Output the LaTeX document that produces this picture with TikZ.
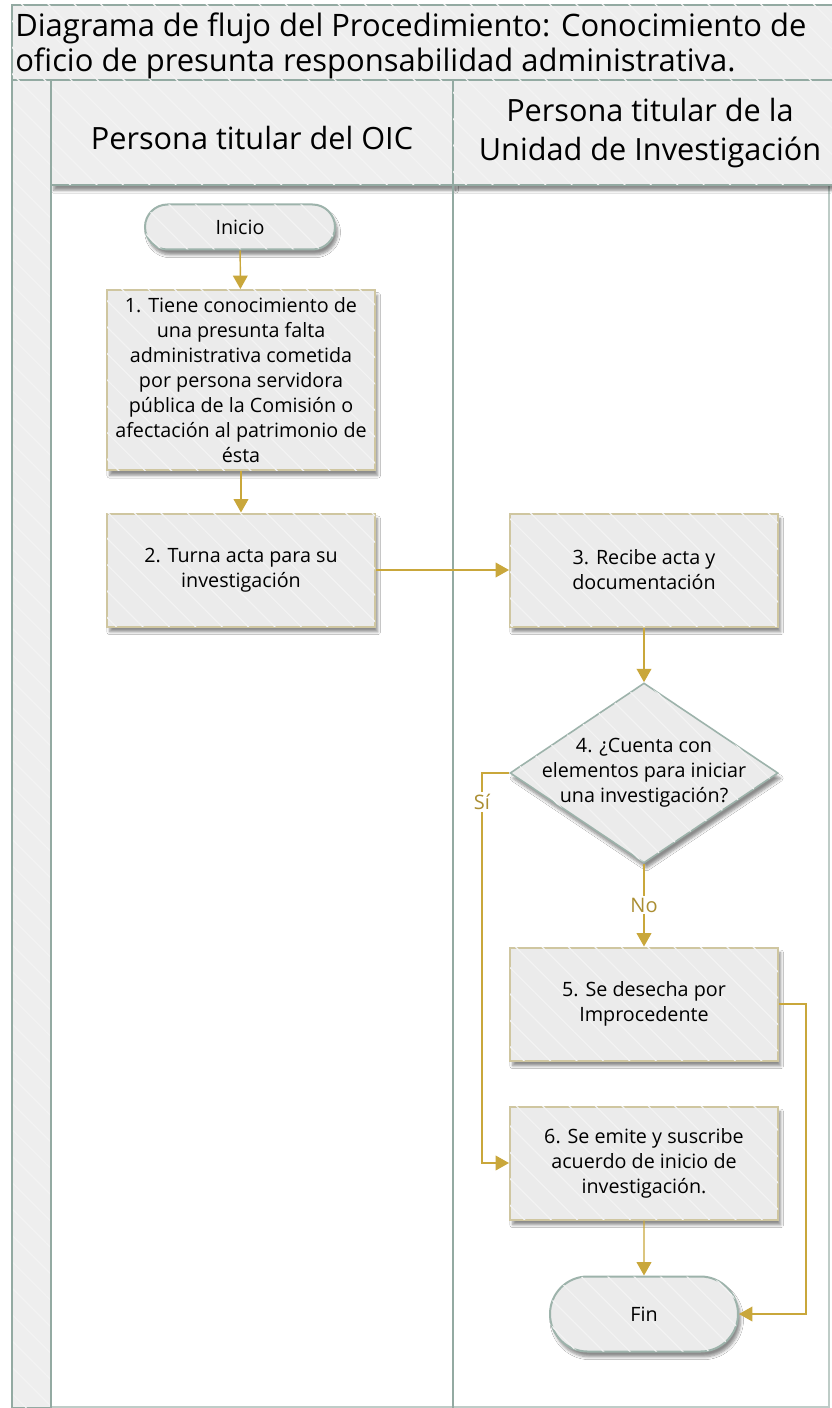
\documentclass[tikz,border=0pt]{standalone}
\usepackage{fontspec}
\setmainfont{Open Sans}
\usetikzlibrary{arrows.meta,shapes.geometric,shapes.misc,shadows.blur,patterns.meta}
\definecolor{gold}{HTML}{C9A73B}
\definecolor{boxfill}{HTML}{EBEBEB}
\definecolor{hdrfill}{HTML}{EEEEEE}
\definecolor{boxedge}{HTML}{CFC6A0}
\definecolor{termedge}{HTML}{9DB3AB}
\definecolor{lanecol}{HTML}{93AAA2}
\tikzset{
  hatch/.style={postaction={pattern={Lines[angle=-45,distance=14pt,line width=0.9pt]},pattern color=white!40!boxfill}},
  shad/.style={blur shadow={shadow xshift=2pt,shadow yshift=-4pt,shadow blur steps=6,shadow opacity=45}},
  boxtext/.style={font=\fontsize{14.8}{18.75}\selectfont,align=center,text=black},
  procbox/.style={boxtext,draw=boxedge,line width=1.5pt,fill=boxfill,hatch,shad,minimum width=201pt,minimum height=84.75pt,inner sep=0pt},
  termbox/.style={boxtext,rounded rectangle,draw=termedge,line width=1.5pt,fill=boxfill,hatch,shad,inner sep=0pt},
  decbox/.style={diamond,draw=termedge,line width=1.2pt,fill=boxfill,hatch,shad,minimum width=201pt,minimum height=135pt,inner sep=0pt,aspect=1.5},
  flow/.style={draw=gold,line width=1.1pt,-{Triangle[width=11pt,length=10pt]}},
  lbl/.style={font=\fontsize{15}{18}\selectfont,text=gold!85!black,fill=white,inner sep=1.5pt},
  cell/.style={draw=lanecol,line width=1pt,fill=hdrfill,hatch},
  hdrtext/.style={font=\fontsize{23}{29}\selectfont,align=center,text=black},
}
\begin{document}
\begin{tikzpicture}[x=0.75pt,y=-0.75pt]
\useasboundingbox (0,0) rectangle (831,1408);
\fill[white] (0,0) rectangle (831,1408);
% title
\path[cell] (12,5) rectangle (840,80);
\node[font=\fontsize{23.2}{26.5}\selectfont,align=left,anchor=west,inner sep=0pt] (title) at (15,46)
  {Diagrama de flujo del Procedimiento: Conocimiento de\\oficio de presunta responsabilidad administrativa.};
% lanes
\draw[lanecol!60,line width=1pt] (51,185) rectangle (829,1407);
\path[cell] (12,80) rectangle (51,1408);
\path[cell,shad] (51,80) rectangle (453,185);
\path[cell,shad] (453,80) rectangle (840,185);
\draw[lanecol,line width=1.5pt] (453,185) -- (453,1408);
\draw[lanecol,line width=1.5pt] (12,80) -- (12,1408);
\draw[lanecol,line width=1.5pt] (51,80) -- (51,1408);
\node[hdrtext] (h1) at (252,138) {Persona titular del OIC};
\node[hdrtext] (h2) at (650,133) {Persona titular de la\\Unidad de Investigación};
% nodes
\node[termbox,minimum width=142.5pt,minimum height=33.75pt] (ini) at (240,227) {Inicio};
\node[procbox,minimum height=135pt] (b1) at (241,380)
  {1. Tiene conocimiento de\\una presunta falta\\administrativa cometida\\por persona servidora\\pública de la Comisión o\\afectación al patrimonio de\\ésta};
\node[procbox] (b2) at (241,570) {2. Turna acta para su\\investigación};
\node[procbox] (b3) at (644,570) {3. Recibe acta y\\documentación};
\node[decbox] (d4) at (644,773) {};
\node[boxtext] (d4t) at (644,773) {4. ¿Cuenta con\\elementos para iniciar\\una investigación?};
\node[procbox] (b5) at (644,1004) {5. Se desecha por\\Improcedente};
\node[procbox] (b6) at (644,1163) {6. Se emite y suscribe\\acuerdo de inicio de\\investigación.};
\node[termbox,minimum width=141pt,minimum height=56.25pt] (fin) at (644,1314) {Fin};
% connectors
\coordinate (s1) at (482,773);
\coordinate (s2) at (482,1163);
\coordinate (r1) at (806,1004);
\coordinate (r2) at (806,1314);
\draw[flow] (ini) -- (b1);
\draw[flow] (b1) -- (b2);
\draw[flow] (b2) -- (b3);
\draw[flow] (b3) -- (d4);
\draw[flow] (d4.south) -- node[lbl] {No} (b5.north);
\draw[flow] (d4.west) -- (s1) -- node[lbl,pos=0.075] {Sí} (s2) -- (b6.west);
\draw[flow] (b6) -- (fin);
\draw[flow] (b5.east) -- (r1) -- (r2) -- (fin.east);
\end{tikzpicture}
\end{document}
